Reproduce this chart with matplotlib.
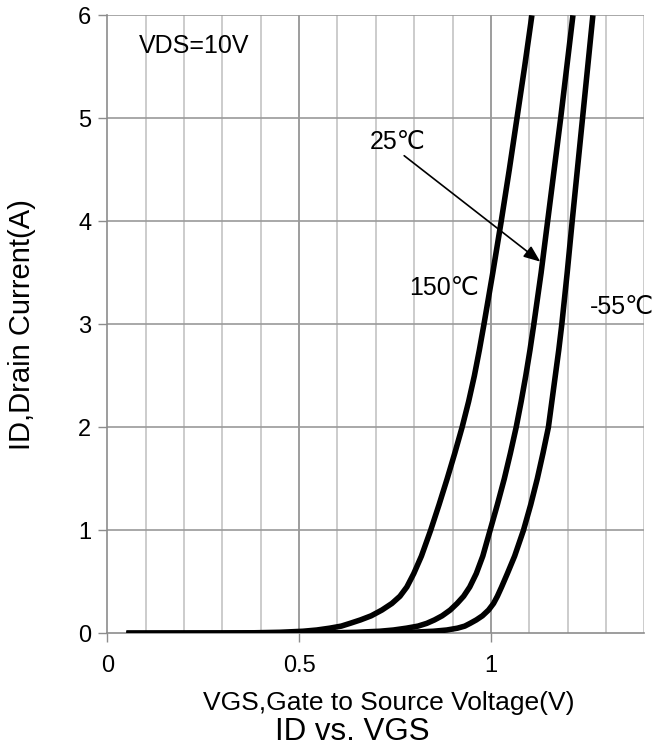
import numpy as np
import matplotlib
matplotlib.use("Agg")
import matplotlib.pyplot as plt

plt.rcParams["font.family"] = ["Liberation Sans", "DejaVu Sans"]

# drain current (A) levels and the gate voltage (V)
id_levels = [0.0, 0.002, 0.005, 0.01, 0.02, 0.032, 0.05, 0.07, 0.097, 0.13, 0.17,
             0.226, 0.29, 0.36, 0.45, 0.58, 0.75, 1.0, 1.25, 1.5, 1.75, 2.0, 2.25,
             2.5, 2.75, 3.0, 3.5, 4.0, 4.5, 5.0, 5.5, 6.0]

vgs_150 = [0.05, 0.30, 0.38, 0.45, 0.51, 0.546, 0.58, 0.61, 0.633, 0.66, 0.688,
           0.716, 0.742, 0.763, 0.781, 0.799, 0.819, 0.843, 0.865, 0.886, 0.906, 0.925, 0.942,
           0.957, 0.970, 0.982, 1.005, 1.027, 1.048, 1.068, 1.088, 1.107]

vgs_25 = [0.05, 0.50, 0.59, 0.65, 0.71, 0.746, 0.78, 0.81, 0.833, 0.853, 0.873,
          0.894, 0.912, 0.929, 0.945, 0.962, 0.979, 0.998, 1.017, 1.035, 1.051, 1.066, 1.079,
          1.091, 1.102, 1.112, 1.131, 1.148, 1.165, 1.182, 1.198, 1.214]

vgs_m55 = [0.05, 0.62, 0.72, 0.79, 0.85, 0.885, 0.913, 0.932, 0.946, 0.962, 0.978,
           0.994, 1.007, 1.017, 1.028, 1.043, 1.062, 1.085, 1.104, 1.121, 1.136, 1.150, 1.159,
           1.168, 1.177, 1.185, 1.199, 1.212, 1.2255, 1.239, 1.2525, 1.266]

curves = [vgs_150, vgs_25, vgs_m55]

x_major = [0, 0.5, 1.0]
x_minor = [0.1, 0.2, 0.3, 0.4, 0.6, 0.7, 0.8, 0.9, 1.1, 1.2, 1.3, 1.4]
y_ticks = [0, 1, 2, 3, 4, 5, 6]

fig = plt.figure(figsize=(6.64, 7.51), dpi=100)
ax = fig.add_axes([0.1616, 0.1567, 0.8087, 0.8229])
ax.set_xlim(0, 1.4)
ax.set_ylim(0, 6)

# grid drawn by hand so the major/minor shades match
for xv in x_minor:
    ax.axvline(xv, color="#c4c4c4", lw=1.2, zorder=1)
for xv in x_major[1:]:
    ax.axvline(xv, color="#8c8c8c", lw=1.2, zorder=1)
for yv in y_ticks[1:]:
    ax.axhline(yv, color="#9a9a9a", lw=1.2, zorder=1)

for vx in curves:
    ax.plot(vx, id_levels, color="black", lw=4.0, solid_capstyle="butt",
            solid_joinstyle="round", zorder=3)

for s in ("top", "right"):
    ax.spines[s].set_visible(False)
for s in ("left", "bottom"):
    ax.spines[s].set_color("#8c8c8c")
    ax.spines[s].set_linewidth(1.2)

ax.set_xticks(x_major)
ax.set_xticklabels(["0", "0.5", "1"])
ax.set_yticks(y_ticks)
ax.tick_params(axis="both", direction="out", length=6.5, width=1.0,
               color="#8c8c8c", labelsize=17)
ax.tick_params(axis="x", pad=9)
ax.tick_params(axis="y", pad=5)

ax.set_xlabel("VGS,Gate to Source Voltage(V)", fontsize=19, va="center")
ax.xaxis.set_label_coords(0.525, -0.112)
ax.set_ylabel("ID,Drain Current(A)", fontsize=21, va="center")
ax.yaxis.set_label_coords(-0.158, 0.5)

fig.text(352 / 664, 1 - 732 / 751, "ID vs. VGS", fontsize=22.5,
         ha="center", va="center")

ax.text(0.083, 5.70, "VDS=10V", fontsize=18, ha="left", va="center", zorder=4)
ax.text(0.684, 4.77, "25℃", fontsize=18, ha="left", va="center", zorder=4)
ax.text(0.788, 3.35, "150℃", fontsize=18, ha="left", va="center", zorder=4)
ax.text(1.259, 3.17, "-55℃", fontsize=18, ha="left", va="center", zorder=4)

ax.annotate("", xy=(1.129, 3.608), xytext=(0.774, 4.637),
            arrowprops=dict(arrowstyle="-|>,head_length=1.0,head_width=0.4",
                            color="black", lw=1.2, shrinkA=0, shrinkB=0),
            zorder=4)

fig.savefig("out.png", dpi=100)
